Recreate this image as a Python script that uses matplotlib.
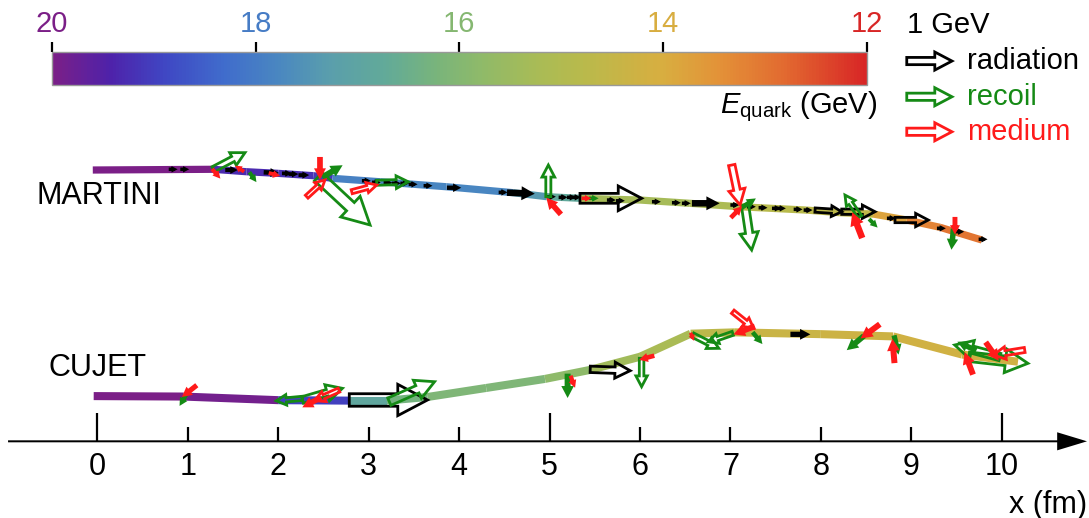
import numpy as np
import matplotlib
matplotlib.use('Agg')
import matplotlib.pyplot as plt
from matplotlib.patches import FancyArrow
from matplotlib.collections import LineCollection
from matplotlib.colors import LinearSegmentedColormap, Normalize
from matplotlib.cm import ScalarMappable

plt.rcParams['font.family'] = 'Liberation Sans'
plt.rcParams['mathtext.fontset'] = 'custom'
plt.rcParams['mathtext.rm'] = 'Liberation Sans'
plt.rcParams['mathtext.it'] = 'Liberation Sans:italic'

# quark energy scale, 20 GeV (purple) down to 12 GeV (red)
cmap = LinearSegmentedColormap.from_list('equark', [
    (0.00, '#7B1F87'), (0.07, '#4E22AA'), (0.14, '#3F48C4'), (0.21, '#406CCC'),
    (0.28, '#4A88C0'), (0.34, '#5A9EAC'), (0.41, '#62AA98'), (0.47, '#78B47C'),
    (0.53, '#90BA68'), (0.60, '#AABB55'), (0.65, '#B8BA4C'), (0.75, '#D8AE40'),
    (0.82, '#E39238'), (0.90, '#E26A30'), (1.00, '#D82626')])
e_max, e_min = 20., 12.
cbar_ticks = [20, 18, 16, 14, 12]

# track of the leading quark (x, y in fm), energy on each segment
martini_x = [-0.05, 1.28, 1.65, 2.0, 2.39, 2.6, 3.13, 3.86, 4.6, 4.97, 5.34, 6.0, 6.55, 7.1, 7.84, 8.21, 8.58, 8.95, 9.32, 9.78]
martini_y = [3.0, 3.008, 2.981, 2.963, 2.937, 2.908, 2.87, 2.815, 2.749, 2.705, 2.687, 2.668, 2.632, 2.594, 2.557, 2.528, 2.513, 2.447, 2.366, 2.226]
martini_E = [20, 19.3, 19.3, 19.2, 19.1, 17.9, 17.8, 17.8, 17.4, 16.8, 15.3, 15.3, 15.1, 14.8, 14.7, 14.6, 13.8, 13.2, 13.0]

cujet_x = [-0.04, 0.95, 2.0, 2.78, 3.2, 3.65, 4.3, 4.95, 5.45, 6.0, 6.56, 7.05, 8.0, 8.8, 9.56, 10.18]
cujet_y = [0.50, 0.495, 0.455, 0.45, 0.45, 0.49, 0.59, 0.69, 0.79, 0.935, 1.19, 1.205, 1.185, 1.16, 0.96, 0.88]
cujet_E = [20, 19.9, 19.0, 16.9, 16.3, 16.1, 16.1, 15.8, 15.4, 15.2, 14.7, 14.4, 14.3, 14.2, 14.2]

# emitted momenta: (x, y, dx, dy), 1 GeV = 0.5 fm of arrow
martini_rad = [
    (0.805, 3.008, 0.05, 0), (0.933, 3.008, 0.05, 0), (1.43, 3.0, 0.09, 0),
    (1.855, 2.974, 0.12, -0.005), (2.057, 2.963, 0.06, 0), (2.13, 2.955, 0.06, 0),
    (2.24, 2.944, 0.07, 0), (2.941, 2.881, 0.05, 0), (3.052, 2.864, 0.05, 0),
    (3.181, 2.859, 0.05, 0), (3.273, 2.853, 0.05, 0), (3.366, 2.853, 0.05, 0),
    (3.458, 2.842, 0.05, 0), (3.623, 2.826, 0.05, 0), (3.881, 2.804, 0.11, 0),
    (4.453, 2.753, 0.05, 0), (4.545, 2.749, 0.259, -0.01), (4.987, 2.705, 0.05, 0),
    (5.116, 2.698, 0.05, 0), (5.208, 2.698, 0.05, 0), (5.263, 2.698, 0.05, 0),
    (5.337, 2.687, 0.682, 0), (5.65, 2.668, 0.05, 0), (5.75, 2.66, 0.05, 0),
    (6.148, 2.649, 0.05, 0), (6.369, 2.638, 0.05, 0), (6.479, 2.632, 0.05, 0),
    (6.59, 2.632, 0.258, 0), (7.015, 2.613, 0.05, 0), (7.198, 2.594, 0.05, 0),
    (7.327, 2.583, 0.05, 0), (7.475, 2.576, 0.05, 0), (7.53, 2.576, 0.05, 0),
    (7.715, 2.565, 0.05, 0), (7.825, 2.557, 0.05, 0), (7.936, 2.557, 0.295, -0.019),
    (8.231, 2.539, 0.368, 0), (8.746, 2.466, 0.05, 0), (8.82, 2.447, 0.368, 0),
    (9.299, 2.355, 0.05, 0), (9.502, 2.318, 0.05, 0), (9.76, 2.234, 0.05, 0)]
martini_rec = [
    (1.283, 3.008, 0.35, 0.184), (1.69, 2.963, 0.05, -0.07), (2.499, 2.926, 0.185, 0.11),
    (2.444, 2.926, 0.572, -0.534), (3.089, 2.859, 0.349, 0.011), (4.987, 2.705, 0, 0.35),
    (5.45, 2.687, 0.06, 0), (7.14, 2.594, 0.114, 0.074), (7.161, 2.613, 0.074, -0.498),
    (8.433, 2.483, -0.166, 0.24), (8.544, 2.447, 0.06, -0.06), (9.465, 2.336, -0.018, -0.185)]
martini_med = [
    (1.279, 3.0, 0.06, -0.07), (1.61, 2.99, -0.06, 0.04), (1.91, 2.963, 0.08, -0.02),
    (2.462, 3.129, 0, -0.203), (2.315, 2.705, 0.202, 0.185), (2.813, 2.76, 0.276, 0.074),
    (5.116, 2.521, -0.129, 0.147), (5.37, 2.687, 0.06, 0), (7.015, 3.055, 0.092, -0.442),
    (7.015, 2.483, 0.092, 0.093), (8.452, 2.262, -0.093, 0.24), (9.483, 2.466, 0, -0.148)]

cujet_rad = [
    (2.786, 0.457, 0.865, 0), (5.45, 0.796, 0.442, -0.015), (7.679, 1.183, 0.172, 0)]
cujet_rec = [
    (0.98, 0.512, -0.054, -0.092), (2.268, 0.475, -0.289, -0.027), (2.268, 0.457, 0.442, 0.129),
    (3.229, 0.438, 0.5, 0.221), (5.2, 0.733, 0, -0.221), (6.018, 0.918, 0, -0.314),
    (6.583, 1.175, 0.289, -0.147), (7.026, 1.194, -0.269, -0.093), (7.256, 1.194, 0.077, -0.093),
    (8.466, 1.157, -0.154, -0.128), (8.813, 1.157, 0.039, -0.166), (9.98, 0.932, -0.5, 0.133),
    (9.638, 0.935, 0.652, -0.073), (9.705, 1.01, -0.166, 0.077)]
cujet_med = [
    (1.088, 0.611, -0.127, -0.1), (2.672, 0.567, -0.27, -0.118), (2.462, 0.479, -0.166, -0.088),
    (5.238, 0.711, 0.033, -0.088), (6.144, 0.943, -0.122, -0.033), (6.565, 1.186, 0.02, -0.045),
    (7.026, 1.433, 0.23, -0.184), (7.256, 1.267, -0.191, -0.073), (8.64, 1.286, -0.174, -0.129),
    (8.813, 0.88, -0.019, 0.221), (9.677, 0.752, -0.076, 0.202), (9.831, 1.084, 0.117, -0.166),
    (10.254, 1.01, -0.346, -0.055)]

x_ticks = np.arange(0, 11)

c_rad, c_rec, c_med = 'black', '#158A15', '#FF1A1A'


def ecolor(e):
    return cmap((e_max - np.asarray(e, dtype=float)) / (e_max - e_min))


def arrow(ax, x, y, dx, dy, color, z=4, fill='none'):
    # hollow arrow, every dimension scaled with the momentum;
    # short ones close up into solid marks
    L = np.hypot(dx, dy)
    fc = color if L < 0.27 else fill
    ax.add_patch(FancyArrow(x, y, dx, dy, width=0.16 * L, head_width=0.4 * L,
                            head_length=0.38 * L, length_includes_head=True,
                            fc=fc, ec=color, lw=2.0, zorder=z, joinstyle='miter'))


def track(ax, xs, ys, es, lw):
    pts = np.column_stack([xs, ys])
    segs = np.stack([pts[:-1], pts[1:]], axis=1)
    lc = LineCollection(segs, colors=ecolor(es), linewidths=lw,
                        capstyle='butt', joinstyle='round', zorder=2)
    ax.add_collection(lc)


fig = plt.figure(figsize=(10.89, 5.18), dpi=100)
ax = fig.add_axes([0, 0, 1, 1])
ax.set_xlim(-1.076, 10.965)
ax.set_ylim(-0.848, 4.880)
ax.axis('off')

track(ax, martini_x, martini_y, martini_E, 5.2)
track(ax, cujet_x, cujet_y, cujet_E, 5.8)

for arrows, col in [(martini_rad, c_rad), (martini_rec, c_rec), (martini_med, c_med),
                    (cujet_rad, c_rad), (cujet_rec, c_rec), (cujet_med, c_med)]:
    for x, y, dx, dy in arrows:
        arrow(ax, x, y, dx, dy, col)

ax.text(-0.672, 2.71, 'MARTINI', fontsize=22, ha='left', va='center')
ax.text(-0.537, 0.81, 'CUJET', fontsize=22, ha='left', va='center')

# x axis with arrow head
ax.add_patch(FancyArrow(-0.987, 0, 11.93, 0, width=0.022, head_width=0.2,
                        head_length=0.33, length_includes_head=True, color='black', lw=0))
for t in x_ticks:
    h = 0.316 if t % 5 == 0 else 0.16
    ax.plot([t, t], [0, h], color='black', lw=1.6, solid_capstyle='butt')
    ax.text(t, -0.287, str(t), fontsize=22, ha='center', va='center')
ax.text(10.94, -0.704, 'x (fm)', fontsize=22, ha='right', va='center')

# legend
ax.text(8.95, 4.603, '1 GeV', fontsize=21, ha='left', va='center')
for yy, col, lab in [(4.205, c_rad, 'radiation'), (3.81, c_rec, 'recoil'), (3.423, c_med, 'medium')]:
    arrow(ax, 8.95, yy, 0.5, 0, col, fill='white')
    ax.text(9.613, yy, lab, fontsize=21, ha='left', va='center', color=col)

ax.text(8.62, 3.70, r'$E_{\rm quark}$ (GeV)', fontsize=21, ha='right', va='center')

# colour bar, high energy on the left
cax = fig.add_axes([0.0478, 0.836, 0.7479, 0.0645])
cb = fig.colorbar(ScalarMappable(norm=Normalize(vmin=e_min, vmax=e_max), cmap=cmap.reversed()),
                  cax=cax, orientation='horizontal', ticks=cbar_ticks)
cax.invert_xaxis()
cax.xaxis.set_ticks_position('top')
cax.tick_params(axis='x', length=7, width=1.6, direction='out', pad=3, labelsize=21)
cb.outline.set_edgecolor('#999999')
cb.outline.set_linewidth(1)
for lbl, t in zip(cax.get_xticklabels(), cax.get_xticks()):
    lbl.set_color(ecolor(t))

fig.savefig('out.png', dpi=100)
